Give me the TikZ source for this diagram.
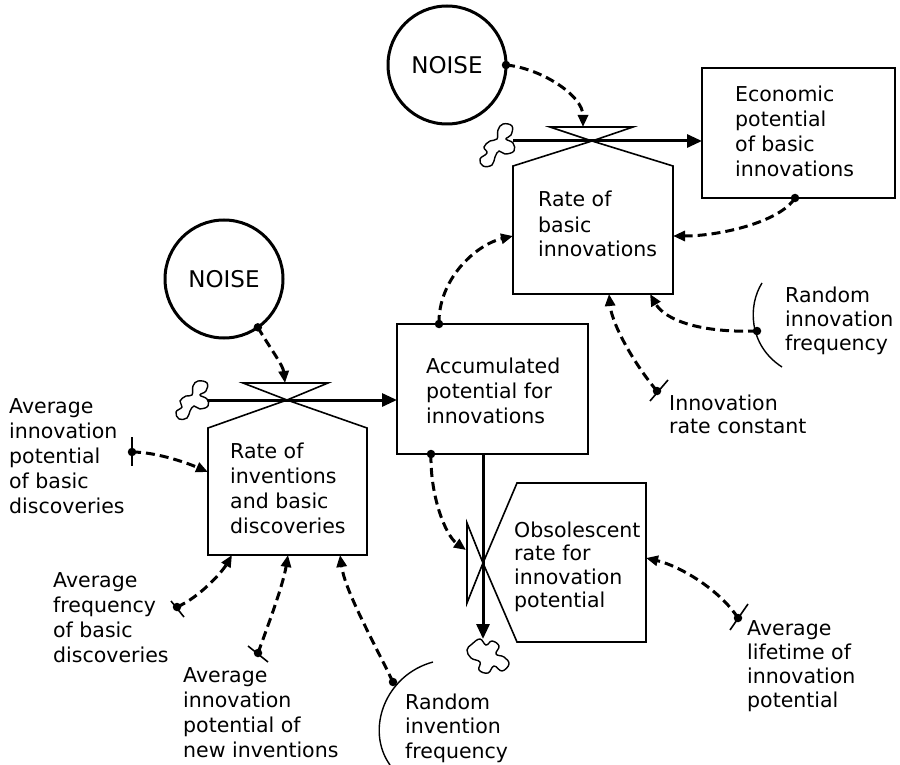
\documentclass[tikz,border=0pt]{standalone}
\usepackage{fontspec}
\setmainfont{DejaVu Sans}
\usetikzlibrary{arrows.meta}

\newcommand\lbfont{\fontsize{20.5}{25}\selectfont}
\newcommand\textrows[1]{\begin{tabular}[t]{@{}l@{}}#1\end{tabular}}

\tikzset{
  boxline/.style={line width=1.6pt, line join=miter},
  stockbox/.style={rectangle, draw, line width=1.6pt, inner sep=0pt, outer sep=0pt},
  ratebody/.style={rectangle, inner sep=0pt, outer sep=0pt},
  flow/.style={line width=3pt, -{Triangle[length=15pt,width=13pt]}},
  infoline/.style={line width=3pt, dash pattern=on 9pt off 5pt, -{Triangle[length=12pt,width=10pt]}},
  noisecircle/.style={circle, draw, line width=3pt, minimum size=118pt, inner sep=0pt, outer sep=0pt, font=\fontsize{23}{25}\selectfont},
  lbl/.style={inner sep=0pt, anchor=base west, font=\lbfont},
  srcdot/.style={circle, fill, inner sep=0pt, minimum size=8.5pt},
  tickmark/.style={line width=1.6pt},
  cloudline/.style={line width=1.4pt},
}

\begin{document}
\begin{tikzpicture}[x=1pt, y=-1pt]
\useasboundingbox (0,0) rectangle (900,765);

% ---------- auxiliaries (noise sources) ----------
\node[noisecircle] (noiseA) at (447,65) {NOISE};
\node[noisecircle] (noiseB) at (224,279) {NOISE};

% ---------- levels ----------
\node[stockbox, minimum width=193, minimum height=130] (econ) at (798.5,133) {};
\node[stockbox, minimum width=191, minimum height=130] (accum) at (492.5,389) {};

% ---------- rate bodies ----------
\node[ratebody, minimum width=160, minimum height=128] (rbi) at (593,230) {};
\node[ratebody, minimum width=159, minimum height=127] (rid) at (287.5,491.5) {};
\node[ratebody, minimum width=129, minimum height=159] (obs) at (581.5,562.5) {};

% valve centres
\coordinate (vA) at (592,141);
\coordinate (vB) at (287,400);
\coordinate (vC) at (483,563);

% rate of basic innovations: valve and pentagon
\draw[boxline] (550,127) -- (633,127) -- (vA) -- cycle;
\draw[boxline] (rbi.north west) -- (vA) -- (rbi.north east) -- (rbi.south east) -- (rbi.south west) -- cycle;

% rate of inventions: valve and pentagon
\draw[boxline] (243,383) -- (328,383) -- (vB) -- cycle;
\draw[boxline] (rid.north west) -- (vB) -- (rid.north east) -- (rid.south east) -- (rid.south west) -- cycle;

% obsolescence: sideways valve and pentagon
\draw[boxline] (467,523) -- (467,603) -- (vC) -- cycle;
\draw[boxline] (vC) -- (obs.north west) -- (obs.north east) -- (obs.south east) -- (obs.south west) -- cycle;

% ---------- sources and sinks ----------
\draw[cloudline, shift={(497,145)}] plot[smooth cycle, tension=0.7] coordinates
  {(6,-21) (15,-19) (14,-10) (9,-6) (16,-2) (17,6) (8,9) (2,6) (-2,12) (-5,20) (-14,21) (-17,14) (-10,8) (-13,2) (-7,-4) (0,-6) (1,-15)};
\draw[cloudline, shift={(192,400)}] plot[smooth cycle, tension=0.7] coordinates
  {(6,-19) (15,-17) (14,-9) (8,-5) (15,-1) (16,6) (8,9) (2,6) (-2,11) (-5,18) (-13,19) (-16,12) (-10,7) (-12,1) (-6,-4) (0,-5) (1,-14)};
\draw[cloudline, shift={(488,656)}] plot[smooth cycle, tension=0.7] coordinates
  {(-16,-12) (-8,-17) (-2,-11) (4,-15) (11,-10) (8,-2) (16,1) (21,8) (14,15) (6,10) (0,17) (-9,14) (-8,6) (-17,2) (-21,-6)};

% ---------- material flows ----------
\coordinate (srcA) at (513,141);
\coordinate (srcB) at (208,400);
\draw[flow] (srcA) -- (econ.west |- vA);
\draw[flow] (srcB) -- (accum.west |- vB);
\coordinate (sinkC) at (483,639);
\draw[flow] (accum.south -| vC) -- (sinkC);

% ---------- text ----------
\node[lbl] (t-rbi) at (538,207) {\textrows{Rate of\\basic\\innovations}};
\node[lbl] (t-econ) at (735,102) {\textrows{Economic\\potential\\of basic\\innovations}};
\node[lbl] (t-rid) at (230,458) {\textrows{Rate of\\inventions\\and basic\\discoveries}};
\node[lbl] (t-accum) at (426,373) {\textrows{Accumulated\\potential for\\innovations}};
\node[lbl, font=\fontsize{20.5}{23.5}\selectfont] (t-obs) at (514,537) {\textrows{Obsolescent\\rate for\\innovation\\potential}};

\node[lbl] (t-aipb) at (9,413) {\textrows{Average\\innovation\\potential\\of basic\\discoveries}};
\node[lbl] (t-afb) at (53,587) {\textrows{Average\\frequency\\of basic\\discoveries}};
\node[lbl] (t-aipn) at (183,682) {\textrows{Average\\innovation\\potential of\\new inventions}};
\node[lbl, font=\fontsize{20.5}{24.5}\selectfont] (t-rinvf) at (405,709) {\textrows{Random\\invention\\frequency}};
\node[lbl, font=\fontsize{20.5}{24}\selectfont] (t-rinnf) at (785,302) {\textrows{Random\\innovation\\frequency}};
\node[lbl, font=\fontsize{20.5}{23}\selectfont] (t-irc) at (669,410) {\textrows{Innovation\\rate constant}};
\node[lbl, font=\fontsize{20.5}{24.3}\selectfont] (t-alt) at (747,635) {\textrows{Average\\lifetime of\\innovation\\potential}};

% ---------- information sources ----------
\coordinate (pAipb) at (132,452);
\coordinate (pAfb) at (177,607);
\coordinate (pAipn) at (258,653);
\coordinate (pRinvf) at (393,682);
\coordinate (pRinnf) at (757,331);
\coordinate (pIrc) at (657,391);
\coordinate (pAlt) at (738,618);
\coordinate (pAccTop) at (accum.north -| 439,0);
\coordinate (pAccBot) at (accum.south -| 431,0);
\coordinate (pEcon) at (econ.south -| 795,0);

% constant markers
\draw[tickmark] (132,437) -- (132,466);
\draw[tickmark] (171,601) -- (184,617);
\draw[tickmark] (248,646) -- (268,662);
\draw[tickmark] (650,401) -- (668,380);
\draw[tickmark] (730,630) -- (748,604);

% random-frequency arcs
\draw[tickmark, line width=1.4pt] (762,283) .. controls (748,305) and (748,345) .. (782,367);
\draw[tickmark, line width=1.4pt] (433,662) .. controls (385,675) and (365,730) .. (390,765);

% ---------- information links ----------
\draw[infoline] (noiseA.east) .. controls (540,68) and (583,95) .. (583,127);
\draw[infoline] (noiseB.-55) .. controls (268,345) and (283,365) .. (285,383);
\draw[infoline] (pAccTop) .. controls (438,280) and (475,245) .. (rbi.west |- 0,236);
\draw[infoline] (pEcon) .. controls (780,222) and (720,236) .. (rbi.east |- 0,236);
\draw[infoline] (pRinnf) .. controls (700,333) and (665,320) .. (rbi.south -| 650,0);
\draw[infoline] (pIrc) .. controls (635,365) and (612,325) .. (rbi.south -| 609,0);
\draw[infoline] (pAccBot) .. controls (430,495) and (445,535) .. (466,550);
\draw[infoline] (pAlt) .. controls (720,590) and (680,566) .. (obs.east |- 0,558);
\draw[infoline] (pAipb) .. controls (155,452) and (185,462) .. (rid.west |- 0,472);
\draw[infoline] (pAfb) .. controls (200,597) and (222,572) .. (rid.south -| 232,0);
\draw[infoline] (pAipn) .. controls (270,620) and (283,585) .. (rid.south -| 288,0);
\draw[infoline] (pRinvf) .. controls (370,635) and (345,590) .. (rid.south -| 340,0);

% dots at the information take-off points
\foreach \p in {pAipb,pAfb,pAipn,pRinvf,pRinnf,pIrc,pAlt,pAccTop,pAccBot,pEcon}
  \node[srcdot] at (\p) {};
\node[srcdot] at (noiseA.east) {};
\node[srcdot] at (noiseB.-55) {};

\end{tikzpicture}
\end{document}
